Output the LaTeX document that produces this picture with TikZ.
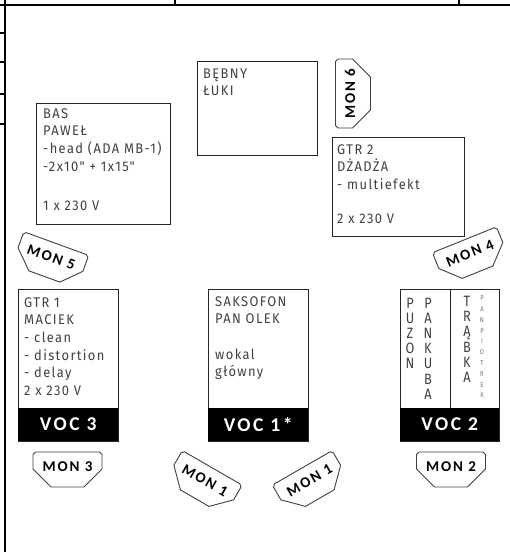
\documentclass[tikz,border=0pt]{standalone}
\usepackage{fontspec}
\newfontfamily\bodyfam{Fira Sans}[FakeStretch=0.92,LetterSpace=10]
\newfontfamily\vfam{Fira Sans}[FakeStretch=0.85]
\newfontfamily\monfam{Carlito}[LetterSpace=13]
\newfontfamily\vocfam{Carlito}[LetterSpace=13]
\newcommand\rows[1]{\begin{tabular}[t]{@{}l@{}}#1\end{tabular}}
\newcommand\vstack[1]{\begin{tabular}[t]{@{}c@{}}#1\end{tabular}}
\newcommand\monshape[5]{%
  \begin{scope}[shift={(#2,-#3)}, rotate=#4]
    \draw[mon] (-34.5,15) -- (-32,17.5) -- (32,17.5) -- (34.5,15) -- (34.5,0.5)
      -- (16.5,-17.5) -- (-16.5,-17.5) -- (-34.5,0.5) -- cycle;
    \node[montxt, rotate=#4] (#1) at (0,3) {#5};
  \end{scope}}
\begin{document}
\begin{tikzpicture}[x=1pt,y=1pt,
  frame/.style={line width=2.2pt, black},
  box/.style={draw=black!85, line width=1.4pt, inner sep=0pt, anchor=north west},
  band/.style={fill=black, inner sep=0pt, anchor=south west, minimum height=33pt,
    text=white, font=\vocfam\bfseries\fontsize{19.5}{20}\selectfont},
  txt/.style={inner sep=0pt, anchor=base west, text=black!75,
    font=\bodyfam\fontsize{14}{17.7}\selectfont},
  vtxt/.style={inner sep=0pt, anchor=base, text=black!75,
    font=\vfam\fontsize{15}{15.2}\selectfont},
  tiny/.style={inner sep=0pt, anchor=base, text=black!55,
    font=\vfam\fontsize{7}{10.8}\selectfont},
  mon/.style={draw=black!75, line width=0.9pt, fill=white},
  montxt/.style={inner sep=0pt, text=black, font=\monfam\bfseries\fontsize{15}{16}\selectfont},
]
\useasboundingbox (0,0) rectangle (510,-552);
% frame
\draw[frame] (0,-5) -- (510,-5);
\draw[frame] (5,0) -- (5,-552);
\foreach \y in {33,62,94,124} \draw[frame] (0,-\y) -- (5,-\y);
\foreach \x in {175,459} \draw[frame] (\x,0) -- (\x,-5);
% boxes
\node[box, minimum width=134pt, minimum height=121pt] (bas) at (36,-103) {};
\node[box, minimum width=120pt, minimum height=94pt] (bebny) at (197,-61) {};
\node[box, minimum width=132pt, minimum height=99pt] (gtr2) at (332,-137) {};
\node[box, minimum width=100pt, minimum height=152pt] (gtr1) at (18,-289) {};
\node[box, minimum width=100pt, minimum height=152pt] (saks) at (208,-289) {};
\node[box, minimum width=99pt, minimum height=152pt] (brass) at (400,-289) {};
% bands
\node[band, minimum width=100pt] (voc3) at (18,-441) {VOC 3};
\node[band, minimum width=100pt] (voc1) at (208,-441) {VOC 1*};
\node[band, minimum width=99pt] (voc2) at (400,-441) {VOC 2};
\draw[draw=black!85, line width=1.4pt] (brass.north) ++(0.5,0) coordinate (dtop) -- (dtop |- voc2.north);
% texts
\node[txt] (tbas) at (43,-118) {\rows{BAS\\PAWEŁ\\-head (ADA MB-1)\\-2x10" + 1x15"\\[22pt]1 x 230 V}};
\node[txt] (tbeb) at (203,-78) {\rows{BĘBNY\\ŁUKI}};
\node[txt] (tgtr2) at (337,-154) {\rows{GTR 2\\DŻADŻA\\- multiefekt\\[16pt]2 x 230 V}};
\node[txt] (tgtr1) at (24,-307) {\rows{GTR 1\\MACIEK\\- clean\\- distortion\\- delay\\2 x 230 V}};
\node[txt] (tsaks) at (215,-306) {\rows{SAKSOFON\\PAN OLEK\\\\wokal\\główny}};
\node[vtxt] (puzon) at (410,-308) {\vstack{P\\U\\Z\\O\\N}};
\node[vtxt] (kuba) at (428,-308) {\vstack{P\\A\\N\\K\\U\\B\\A}};
\node[vtxt] (trabka) at (467,-306.5) {\vstack{T\\R\\Ą\\B\\K\\A}};
\node[tiny] (piotrek) at (482,-300.7) {\vstack{P\\A\\N\\P\\I\\O\\T\\R\\E\\K}};
% monitors
\monshape{mon6}{353}{93.5}{90}{MON 6}
\monshape{mon5}{50.3}{260}{-20}{MON 5}
\monshape{mon4}{471}{256}{22}{MON 4}
\monshape{mon3}{67.5}{469.5}{0}{MON 3}
\monshape{mon2}{451}{469.5}{0}{MON 2}
\monshape{mon1a}{203.5}{483}{-30}{MON 1}
\monshape{mon1b}{311}{483}{30}{MON 1}
\end{tikzpicture}
\end{document}
